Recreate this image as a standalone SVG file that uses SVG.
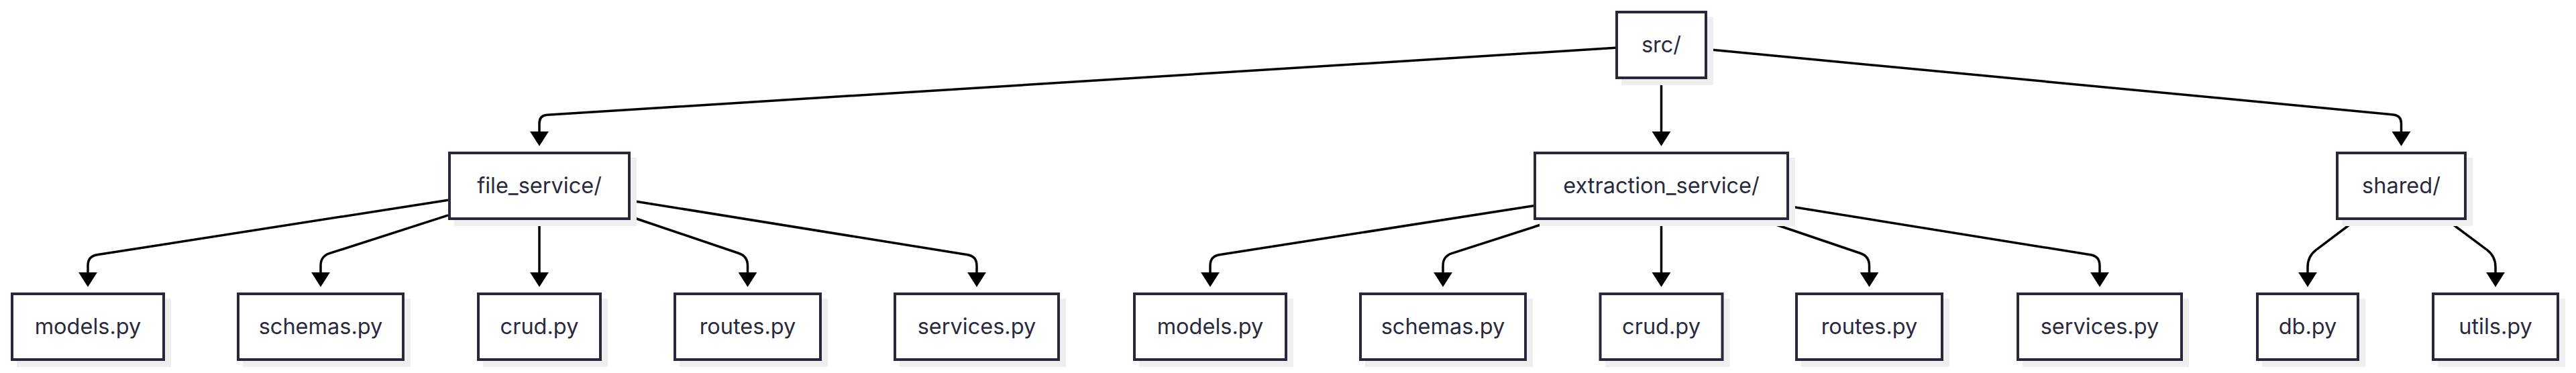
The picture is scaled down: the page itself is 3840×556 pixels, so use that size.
<svg xmlns="http://www.w3.org/2000/svg" width="3840" height="556" viewBox="0 0 3840 556">
<style>
.shadow{fill:#efefef}
.box{fill:#ffffff;stroke:#27283b;stroke-width:4}
.lbl{font-family:Inter,"Open Sans","Liberation Sans",sans-serif;font-size:32.5px;fill:#2a2a3e;text-anchor:middle}
.edge{fill:none;stroke:#000000;stroke-width:3.5;marker-end:url(#arrow)}
</style>
<defs>
<marker id="arrow" markerUnits="userSpaceOnUse" markerWidth="22" markerHeight="28" viewBox="0 0 21 27" refX="3" refY="13.5" orient="auto">
<path d="M0,0 L21,13.5 L0,27 z" fill="#000000"/>
</marker>
</defs>
<rect width="3840" height="556" fill="#ffffff"/>
<g id="connectors">
<path class="edge" d="M2408,71.3 L815.5,171.25 Q804,172 804,184 L804,199"/>
<path class="edge" d="M2476.5,118 L2476.5,199"/>
<path class="edge" d="M2545,73.5 L3567.6,170.9 Q3579.5,172 3579.5,184 L3579.5,199"/>
<path class="edge" d="M668,298.2 L144.8,379.8 Q131,382 131,396 L131,409"/>
<path class="edge" d="M668,320.8 L491.3,377.7 Q478,382 478,396 L478,409"/>
<path class="edge" d="M804,328 L804,409"/>
<path class="edge" d="M940,323 L1101.2,377.5 Q1114.5,382 1114.5,396 L1114.5,409"/>
<path class="edge" d="M940,298.9 L1442.2,379.8 Q1456,382 1456,396 L1456,409"/>
<path class="edge" d="M2286,306.7 L1817.8,379.8 Q1804,382 1804,396 L1804,409"/>
<path class="edge" d="M2318.4,328 L2164.3,377.7 Q2151,382 2151,396 L2151,409"/>
<path class="edge" d="M2476.5,328 L2476.5,409"/>
<path class="edge" d="M2627.1,328 L2773.2,377.5 Q2786.5,382 2786.5,396 L2786.5,409"/>
<path class="edge" d="M2667,307.6 L3116.2,379.8 Q3130,382 3130,396 L3130,409"/>
<path class="edge" d="M3511.7,328 L3452.8,372.4 Q3440,382 3440,398 L3440,409"/>
<path class="edge" d="M3647.7,328 L3707.2,372.4 Q3720,382 3720,398 L3720,409"/>
</g>
<g id="node-src">
<rect class="shadow" x="2417" y="25" width="137" height="102"/>
<rect class="box" x="2410" y="18" width="133" height="98"/>
<text class="lbl" x="2476.5" y="78">src/</text>
</g>
<g id="node-file_service">
<rect class="shadow" x="677" y="235" width="272" height="102"/>
<rect class="box" x="670" y="228" width="268" height="98"/>
<text class="lbl" x="804" y="288">file_service/</text>
</g>
<g id="node-extraction_service">
<rect class="shadow" x="2295" y="235" width="381" height="102"/>
<rect class="box" x="2288" y="228" width="377" height="98"/>
<text class="lbl" x="2476.5" y="288">extraction_service/</text>
</g>
<g id="node-shared">
<rect class="shadow" x="3491" y="235" width="195" height="102"/>
<rect class="box" x="3484" y="228" width="191" height="98"/>
<text class="lbl" x="3579.5" y="288">shared/</text>
</g>
<g id="node-fs-models">
<rect class="shadow" x="25" y="445" width="230" height="102"/>
<rect class="box" x="18" y="438" width="226" height="98"/>
<text class="lbl" x="131" y="498">models.py</text>
</g>
<g id="node-fs-schemas">
<rect class="shadow" x="362" y="445" width="250" height="102"/>
<rect class="box" x="355" y="438" width="246" height="98"/>
<text class="lbl" x="478" y="498">schemas.py</text>
</g>
<g id="node-fs-crud">
<rect class="shadow" x="720" y="445" width="186" height="102"/>
<rect class="box" x="713" y="438" width="182" height="98"/>
<text class="lbl" x="804" y="498">crud.py</text>
</g>
<g id="node-fs-routes">
<rect class="shadow" x="1013" y="445" width="221" height="102"/>
<rect class="box" x="1006" y="438" width="217" height="98"/>
<text class="lbl" x="1114.5" y="498">routes.py</text>
</g>
<g id="node-fs-services">
<rect class="shadow" x="1341" y="445" width="248" height="102"/>
<rect class="box" x="1334" y="438" width="244" height="98"/>
<text class="lbl" x="1456" y="498">services.py</text>
</g>
<g id="node-es-models">
<rect class="shadow" x="1698" y="445" width="230" height="102"/>
<rect class="box" x="1691" y="438" width="226" height="98"/>
<text class="lbl" x="1804" y="498">models.py</text>
</g>
<g id="node-es-schemas">
<rect class="shadow" x="2035" y="445" width="250" height="102"/>
<rect class="box" x="2028" y="438" width="246" height="98"/>
<text class="lbl" x="2151" y="498">schemas.py</text>
</g>
<g id="node-es-crud">
<rect class="shadow" x="2392.5" y="445" width="186" height="102"/>
<rect class="box" x="2385.5" y="438" width="182" height="98"/>
<text class="lbl" x="2476.5" y="498">crud.py</text>
</g>
<g id="node-es-routes">
<rect class="shadow" x="2685" y="445" width="221" height="102"/>
<rect class="box" x="2678" y="438" width="217" height="98"/>
<text class="lbl" x="2786.5" y="498">routes.py</text>
</g>
<g id="node-es-services">
<rect class="shadow" x="3015" y="445" width="248" height="102"/>
<rect class="box" x="3008" y="438" width="244" height="98"/>
<text class="lbl" x="3130" y="498">services.py</text>
</g>
<g id="node-db">
<rect class="shadow" x="3372" y="445" width="154" height="102"/>
<rect class="box" x="3365" y="438" width="150" height="98"/>
<text class="lbl" x="3440" y="498">db.py</text>
</g>
<g id="node-utils">
<rect class="shadow" x="3634" y="445" width="190" height="102"/>
<rect class="box" x="3627" y="438" width="186" height="98"/>
<text class="lbl" x="3720" y="498">utils.py</text>
</g>
</svg>
